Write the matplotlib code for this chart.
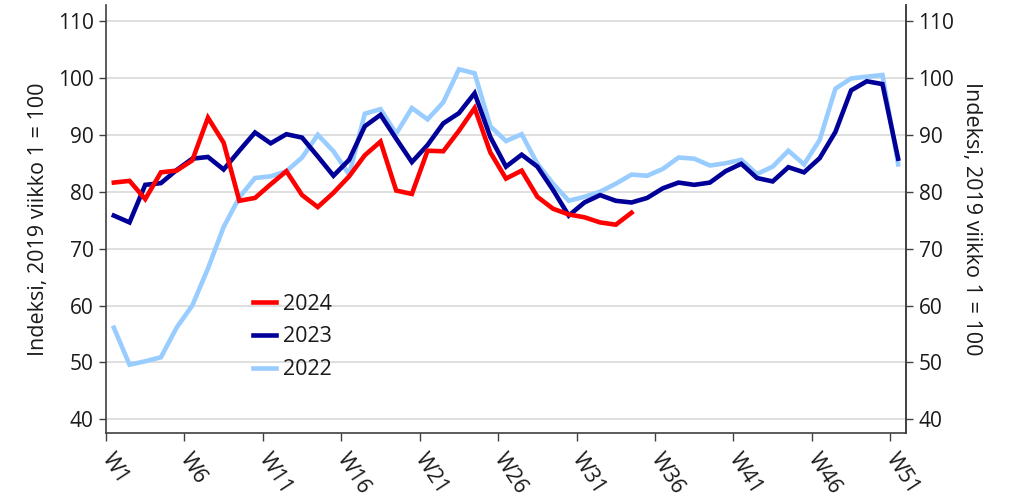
import matplotlib
matplotlib.use("Agg")
import matplotlib.pyplot as plt
import numpy as np

plt.rcParams['font.family'] = ['Open Sans', 'DejaVu Sans']

weeks = [f"W{i}" for i in range(1, 52)]
tick_labels = ["W1", "W6", "W11", "W16", "W21", "W26", "W31", "W36", "W41", "W46", "W51"]

y2024 = [81.6, 81.9, 78.7, 83.4, 83.7, 85.5, 93.0, 88.6, 78.4, 78.9,
         81.3, 83.6, 79.4, 77.3, 79.8, 82.7, 86.4, 88.8, 80.2, 79.6,
         87.2, 87.1, 90.7, 94.7, 86.9, 82.3, 83.7, 79.1, 77.0, 76.0,
         75.5, 74.6, 74.2, 76.3]
y2023 = [75.8, 74.6, 81.2, 81.5, 83.8, 85.8, 86.1, 83.9, 87.2, 90.4,
         88.5, 90.1, 89.5, 86.2, 82.8, 85.6, 91.5, 93.5, 89.3, 85.2,
         88.2, 92.0, 93.8, 97.3, 89.6, 84.4, 86.5, 84.4, 80.3, 75.8,
         78.1, 79.4, 78.4, 78.1, 78.9, 80.6, 81.6, 81.2, 81.6, 83.6,
         84.9, 82.4, 81.8, 84.3, 83.4, 85.9, 90.5, 97.8, 99.4, 98.9,
         85.8]
y2022 = [56.1, 49.6, 50.2, 50.9, 56.1, 60.0, 66.5, 73.8, 79.0, 82.4,
         82.7, 83.6, 86.0, 90.0, 87.1, 83.0, 93.7, 94.5, 90.2, 94.7,
         92.7, 95.7, 101.5, 100.8, 91.5, 88.9, 90.1, 84.9, 81.4, 78.4,
         79.1, 80.0, 81.4, 83.0, 82.8, 84.0, 86.0, 85.8, 84.6, 85.0,
         85.6, 83.1, 84.4, 87.2, 84.8, 89.1, 98.1, 99.9, 100.2, 100.5,
         84.8]

ylabel = "Indeksi, 2019 viikko 1 = 100"

fig = plt.figure(figsize=(10.15, 4.99), dpi=100)
ax = fig.add_axes([106/1015, 1-433/499, 800/1015, 428/499])

x_all = np.arange(len(weeks))
lw = 3.3
l22, = ax.plot(x_all[:len(y2022)], y2022, color="#99CCFF", lw=lw, label="2022", solid_joinstyle='miter')
l23, = ax.plot(x_all[:len(y2023)], y2023, color="#000099", lw=lw, label="2023", solid_joinstyle='miter')
l24, = ax.plot(x_all[:len(y2024)], y2024, color="#FF0000", lw=lw, label="2024", solid_joinstyle='miter')

ax.set_xlim(-0.5, len(weeks) - 0.5)
ax.set_ylim(37.6, 112.8)
yt = np.arange(40, 111, 10)
ax.set_yticks(yt)
ax.grid(axis='y', color="#D9D9D9", lw=1.2)
ax.set_axisbelow(True)

tick_pos = [weeks.index(t) - 0.5 for t in tick_labels]
ax.set_xticks(tick_pos)
ax.set_xticklabels(tick_labels, rotation=-57, ha='left', va='center',
                   rotation_mode='anchor', fontsize=15.5, color="#1a1a1a")
ax.tick_params(axis='x', length=6, width=1, color="#404040", pad=10)
ax.tick_params(axis='y', length=5, width=1, color="#404040", labelsize=15,
               labelcolor="#1a1a1a", pad=4)

for s in ['top']:
    ax.spines[s].set_visible(False)
for s in ['left', 'bottom', 'right']:
    ax.spines[s].set_color("#404040")
    ax.spines[s].set_linewidth(1.2)

ax2 = ax.twinx()
ax2.set_ylim(ax.get_ylim())
ax2.set_yticks(yt)
ax2.tick_params(axis='y', length=5, width=1, color="#404040", labelsize=15,
                labelcolor="#1a1a1a", pad=4)
for s in ['top', 'left', 'bottom']:
    ax2.spines[s].set_visible(False)
ax2.spines['right'].set_color("#404040")
ax2.spines['right'].set_linewidth(1.2)

ax.set_ylabel(ylabel, fontsize=15.5, color="#1a1a1a", labelpad=6)
ax2.set_ylabel(ylabel, fontsize=15.5, color="#1a1a1a", rotation=-90, labelpad=20)

leg = ax.legend(handles=[l24, l23, l22], loc='upper left',
                bbox_to_anchor=((244-106)/800, (433-285)/428),
                frameon=False, fontsize=15.5, handlelength=1.1,
                handletextpad=0.3, labelspacing=0.55, borderaxespad=0)
for t in leg.get_texts():
    t.set_color("#1a1a1a")

fig.savefig("out.png", dpi=100)
